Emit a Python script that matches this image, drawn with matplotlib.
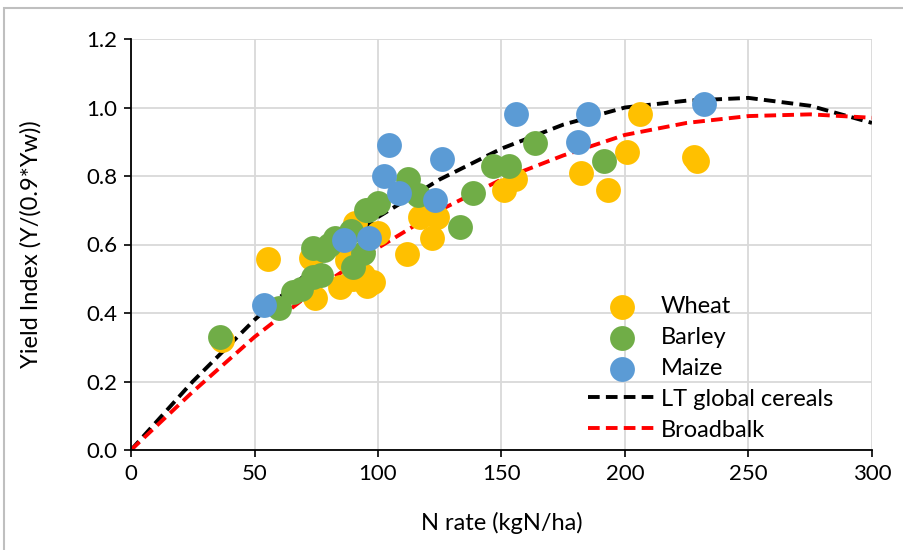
import matplotlib
matplotlib.use("Agg")
import matplotlib.pyplot as plt
from matplotlib.patches import Rectangle

plt.rcParams['font.family'] = ['Lato', 'DejaVu Sans']

# scatter data
wheat_x = [37, 55.5, 73, 74.5, 84.6, 87.4, 90, 90.7, 94, 95.5, 98, 100, 111.6,
           117, 122, 124, 151, 155.5, 182, 193, 201, 206, 228, 229]
wheat_y = [0.32, 0.557, 0.56, 0.445, 0.475, 0.555, 0.50, 0.663, 0.51, 0.48, 0.49, 0.635, 0.573,
           0.68, 0.62, 0.68, 0.76, 0.79, 0.81, 0.76, 0.87, 0.98, 0.855, 0.845]

barley_x = [36, 60, 65.6, 69, 73.7, 77, 73.7, 78, 80, 82.6, 89, 90, 94, 95, 96, 100,
            112, 116, 133, 138.5, 146.5, 153, 163.5, 191.5]
barley_y = [0.33, 0.415, 0.46, 0.47, 0.505, 0.51, 0.59, 0.585, 0.60, 0.62, 0.64, 0.535, 0.575, 0.70, 0.70, 0.72,
            0.79, 0.745, 0.65, 0.75, 0.83, 0.83, 0.895, 0.845]

maize_x = [54, 86.3, 96.4, 102.5, 104.5, 108.5, 123, 126, 156, 181, 185, 232]
maize_y = [0.423, 0.613, 0.62, 0.80, 0.89, 0.75, 0.73, 0.85, 0.98, 0.90, 0.98, 1.01]

curve_x = [0, 25, 50, 75, 100, 125, 150, 175, 200, 225, 250, 275, 300]
lt_global_y = [0, 0.20, 0.38, 0.54, 0.68, 0.79, 0.88, 0.95, 1.00, 1.02, 1.028, 1.005, 0.955]
broadbalk_y = [0, 0.17, 0.33, 0.47, 0.59, 0.70, 0.79, 0.86, 0.92, 0.955, 0.975, 0.98, 0.97]

fig = plt.figure(figsize=(9.04, 5.5), dpi=100)
ax = fig.add_axes([131/904, 1-450/550, 741/904, 411/550])

ax.plot(curve_x, lt_global_y, color='black', lw=2.8, ls=(0, (3, 1.6)), label='LT global cereals', zorder=2)
ax.plot(curve_x, broadbalk_y, color='#FF0000', lw=2.8, ls=(0, (3, 1.6)), label='Broadbalk', zorder=2)

ms = 320
ax.scatter(wheat_x, wheat_y, s=ms, color='#FFC000', label='Wheat', zorder=3, linewidths=0)
ax.scatter(barley_x, barley_y, s=ms, color='#70AD47', label='Barley', zorder=3, linewidths=0)
ax.scatter(maize_x, maize_y, s=ms, color='#5B9BD5', label='Maize', zorder=3, linewidths=0)

ax.set_xlim(0, 300)
ax.set_ylim(0, 1.2)
ax.set_xticks(range(0, 301, 50))
ax.set_yticks([0, 0.2, 0.4, 0.6, 0.8, 1.0, 1.2])
ax.set_yticklabels(['0.0', '0.2', '0.4', '0.6', '0.8', '1.0', '1.2'])
ax.grid(True, color='#d9d9d9', lw=1.3)
ax.set_axisbelow(True)
for s in ['top', 'right']:
    ax.spines[s].set_visible(False)
for s in ['left', 'bottom']:
    ax.spines[s].set_color('black')
    ax.spines[s].set_linewidth(1.3)
ax.tick_params(labelsize=16, length=5, width=1.2, direction='out', pad=5)
ax.set_xlabel('N rate (kgN/ha)', fontsize=17, labelpad=20)
ax.set_ylabel('Yield Index (Y/(0.9*Yw))', fontsize=17, labelpad=32)

h, l = ax.get_legend_handles_labels()
order = [2, 3, 4, 0, 1]
ax.legend([h[i] for i in order], [l[i] for i in order], loc='upper left',
          bbox_to_anchor=(0.594, 0.415), frameon=False, fontsize=17,
          handlelength=2.9, handletextpad=0.2, labelspacing=0.42, borderpad=0.2)

fig.patches.append(Rectangle((4/904, -0.05), 1.2, 1.05 - 8/550, transform=fig.transFigure,
                             fill=False, edgecolor='#bfbfbf', lw=1.5))

fig.savefig('out.png', dpi=100)
